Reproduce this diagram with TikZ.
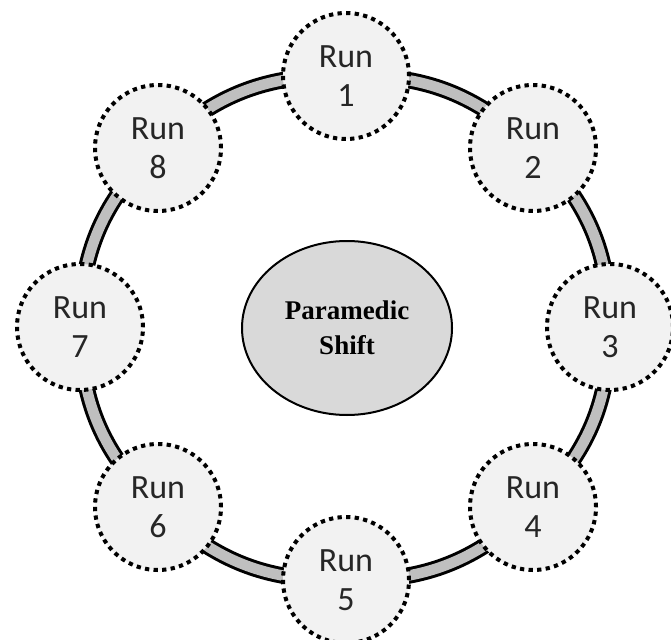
\documentclass[tikz,border=0pt]{standalone}
\usepackage{fontspec}
\setmainfont{Carlito}
\newfontfamily\timesbold{Liberation Serif}[UprightFont=*-Bold]
\usetikzlibrary{backgrounds,shapes.geometric}
\definecolor{runfill}{HTML}{F2F2F2}
\definecolor{bandfill}{HTML}{BFBFBF}
\definecolor{hubfill}{HTML}{D9D9D9}
\tikzset{
  runnode/.style={circle, minimum size=126pt, inner sep=0pt, fill=runfill, draw=black,
    line width=4pt, dash pattern=on 4.3pt off 4.3pt, align=center,
    font=\fontsize{34}{39}\selectfont, text=black!85},
  hubnode/.style={ellipse, minimum width=210pt, minimum height=174pt, fill=hubfill,
    draw=black, line width=2pt, align=center, font=\timesbold\fontsize{27}{35}\selectfont},
  band/.style={draw=black, line width=3pt, double=bandfill, double distance=10.5pt}
}
\begin{document}
\begin{tikzpicture}[x=1pt,y=-1pt]
\path[use as bounding box] (0,0) rectangle (671,639);
\node[hubnode] (hub) at (347,328) {Paramedic\\Shift};
\node[runnode] (r1) at (346,76) {Run\\1};
\node[runnode] (r2) at (533,148) {Run\\2};
\node[runnode] (r3) at (610,327) {Run\\3};
\node[runnode] (r4) at (533,507) {Run\\4};
\node[runnode] (r5) at (346,580) {Run\\5};
\node[runnode] (r6) at (158,507) {Run\\6};
\node[runnode] (r7) at (80,327) {Run\\7};
\node[runnode] (r8) at (158,148) {Run\\8};
\begin{scope}[on background layer]
\fill[white] (0,0) rectangle (671,639);
\draw[band] (r1.center) to[bend left=22.5] (r2.center);
\draw[band] (r2.center) to[bend left=22.5] (r3.center);
\draw[band] (r3.center) to[bend left=22.5] (r4.center);
\draw[band] (r4.center) to[bend left=22.5] (r5.center);
\draw[band] (r5.center) to[bend left=22.5] (r6.center);
\draw[band] (r6.center) to[bend left=22.5] (r7.center);
\draw[band] (r7.center) to[bend left=22.5] (r8.center);
\draw[band] (r8.center) to[bend left=22.5] (r1.center);
\end{scope}
\end{tikzpicture}
\end{document}
